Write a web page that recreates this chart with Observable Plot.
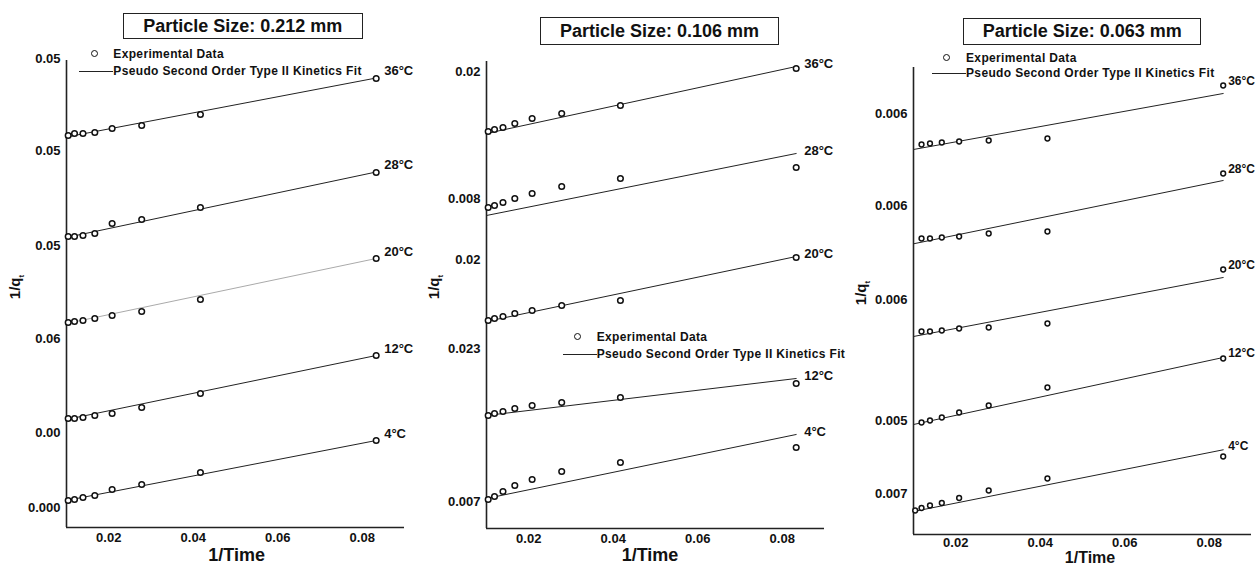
<!DOCTYPE html>
<html><head><meta charset="utf-8">
<script src="https://cdn.jsdelivr.net/npm/d3@7"></script>
<script src="https://cdn.jsdelivr.net/npm/@observablehq/plot@0.6"></script>
<style>
html,body{margin:0;padding:0;background:#fff;overflow:hidden}
#wrap{position:relative;width:1257px;height:566px;font-family:"Liberation Sans",Arial,sans-serif;font-weight:bold;color:#111;overflow:hidden}
.panel{position:absolute;top:0}
.title{position:absolute;border:1.5px solid #222;box-sizing:border-box;display:flex;align-items:center;justify-content:center;font-size:18px;background:#fff}
.legtxt{position:absolute;font-size:12px;letter-spacing:0.35px;white-space:nowrap;line-height:14px;height:14px}
.legdot{position:absolute;width:5px;height:5px;border:1.5px solid #111;border-radius:50%;background:#fff}
.legline{position:absolute;height:0;border-top:1.2px solid #222}
.xlab{position:absolute;width:200px;text-align:center;line-height:20px}
.ylab{position:absolute;font-size:15px;line-height:18px;white-space:nowrap;transform:translate(-50%,-50%) rotate(-90deg)}
.ylab sub{font-size:8px}
</style></head>
<body><div id="wrap"></div>
<script>
// ---- shared data ----
const invTime = [0.0104, 0.0119, 0.0139, 0.0167, 0.0208, 0.0278, 0.0417, 0.0833];
const temps = ["36°C", "28°C", "20°C", "12°C", "4°C"];
const xTicks = [0.02, 0.04, 0.06, 0.08];
const titles = ["Particle Size: 0.212 mm", "Particle Size: 0.106 mm", "Particle Size: 0.063 mm"];
const legendLabels = ["Experimental Data", "Pseudo Second Order Type II Kinetics Fit"];

// ---- particle size 0.212 mm ----
const q212_36 = [0.392, 0.394, 0.394, 0.395, 0.399, 0.402, 0.413, 0.449];
const q212_28 = [0.291, 0.291, 0.292, 0.294, 0.304, 0.308, 0.320, 0.355];
const q212_20 = [0.205, 0.206, 0.207, 0.209, 0.212, 0.216, 0.228, 0.269];
const q212_12 = [0.109, 0.109, 0.110, 0.112, 0.114, 0.120, 0.134, 0.172];
const q212_4  = [0.027, 0.028, 0.030, 0.032, 0.038, 0.043, 0.055, 0.087];
const fitStart212 = [0.3905, 0.290, 0.204, 0.108, 0.027];
const fitEnd212   = [0.4495, 0.3555, 0.269, 0.172, 0.087];
const yTicks212  = [0.469, 0.377, 0.282, 0.189, 0.095, 0.020];
const yLabels212 = ["0.05", "0.05", "0.05", "0.06", "0.00", "0.000"];

// ---- particle size 0.106 mm ----
const q106_36 = [0.397, 0.399, 0.401, 0.405, 0.410, 0.415, 0.423, 0.460];
const q106_28 = [0.321, 0.323, 0.326, 0.330, 0.335, 0.342, 0.350, 0.361];
const q106_20 = [0.208, 0.210, 0.212, 0.215, 0.218, 0.223, 0.228, 0.271];
const q106_12 = [0.113, 0.115, 0.117, 0.120, 0.123, 0.126, 0.131, 0.145];
const q106_4  = [0.029, 0.032, 0.037, 0.043, 0.049, 0.057, 0.066, 0.081];
const fitStart106 = [0.395, 0.313, 0.207, 0.113, 0.030];
const fitEnd106   = [0.462, 0.375, 0.272, 0.150, 0.094];
const yTicks106  = [0.457, 0.330, 0.269, 0.180, 0.027];
const yLabels106 = ["0.02", "0.008", "0.02", "0.023", "0.007"];

// ---- particle size 0.063 mm ----
const q063_36 = [null, 0.390, 0.391, 0.392, 0.393, 0.394, 0.396, 0.449];
const q063_28 = [null, 0.296, 0.296, 0.297, 0.298, 0.301, 0.303, 0.361];
const q063_20 = [null, 0.203, 0.203, 0.204, 0.206, 0.207, 0.211, 0.265];
const q063_12 = [null, 0.112, 0.114, 0.117, 0.122, 0.129, 0.147, 0.176];
const q063_4  = [0.024, 0.0265, 0.029, 0.0315, 0.0365, 0.044, 0.056, 0.078];
const fitStart063 = [0.385, 0.2907, 0.198, 0.110, 0.023];
const fitEnd063   = [0.441, 0.354, 0.257, 0.177, 0.0847];
const yTicks063  = [0.421, 0.329, 0.235, 0.114, 0.041];
const yLabels063 = ["0.006", "0.006", "0.006", "0.005", "0.007"];

const X0 = 0.01, X1 = 0.09, XFITEND = 0.0833;

const panels = [
  {series:[q212_36,q212_28,q212_20,q212_12,q212_4], fs:fitStart212, fe:fitEnd212, yt:yTicks212, yl:yLabels212,
   left:0, width:420, mr:16, mt:60, mb:39, labelDy:-7, labelDx:8, labelSize:13, r:2.8, light:"20°C", xpad:5,
   title:{x:122.7,y:13.3,w:240,h:26}, leg:{dotX:95,dotY:54.3,tx:113.3,lineX0:79,lineY:71},
   xlab:{x:236.7,y:555,size:18}, ylab:{x:18,y:287}},
  {series:[q106_36,q106_28,q106_20,q106_12,q106_4], fs:fitStart106, fe:fitEnd106, yt:yTicks106, yl:yLabels106,
   left:420, width:420, mr:16, mt:61, mb:38, labelDy:-3, labelDx:8, labelSize:13, r:2.8, light:null, xpad:5,
   title:{x:540,y:17.3,w:239,h:27.5}, leg:{dotX:578.3,dotY:336.7,tx:596.7,lineX0:563.3,lineY:354},
   xlab:{x:650,y:555,size:18}, ylab:{x:437,y:287}},
  {series:[q063_36,q063_28,q063_20,q063_12,q063_4], fs:fitStart063, fe:fitEnd063, yt:yTicks063, yl:yLabels063,
   left:847, width:410, mr:6, mt:67, mb:32, labelDy:-4, labelDx:5, labelSize:12, r:2.4, light:null, xpad:3,
   title:{x:963.3,y:18.3,w:238,h:27}, leg:{dotX:946.7,dotY:57.7,tx:966,lineX0:931.7,lineY:73.3},
   xlab:{x:1090,y:557.5,size:16}, ylab:{x:863.5,y:293}}
];

const wrap = document.getElementById("wrap");

panels.forEach((p, pi) => {
  const pts = [];
  p.series.forEach((arr, si) => arr.forEach((v, i) => {
    if (v != null) pts.push({t: temps[si], x: invTime[i], y: v});
  }));
  const fits = [];
  temps.forEach((t, si) => {
    fits.push({t, x: X0, y: p.fs[si]});
    fits.push({t, x: XFITEND, y: p.fe[si]});
  });
  const labs = temps.map((t, si) => ({t, x: XFITEND, y: Math.max(p.fe[si], p.series[si][7])}));
  const tickMap = new Map(p.yt.map((v, i) => [v, p.yl[i]]));

  const chart = Plot.plot({
    width: p.width, height: 566,
    marginLeft: 66, marginRight: p.mr, marginTop: p.mt, marginBottom: p.mb,
    style: {fontFamily: '"Liberation Sans", Arial, sans-serif', fontSize: "13px", fontWeight: "bold",
            background: "transparent", color: "#111", overflow: "visible"},
    x: {domain: [X0, X1], ticks: xTicks, tickSize: 0, tickPadding: p.xpad, tickFormat: d => d.toFixed(2), label: null},
    y: {domain: [0, 0.467], ticks: p.yt, tickSize: 0, tickPadding: 6, tickFormat: d => tickMap.get(d), label: null},
    marks: [
      Plot.ruleX([X0], {stroke: "#222", strokeWidth: 1.6}),
      Plot.ruleY([0], {stroke: "#222", strokeWidth: 1.6}),
      Plot.line(fits.filter(d => d.t !== p.light), {x: "x", y: "y", z: "t", stroke: "#222", strokeWidth: 1}),
      Plot.line(fits.filter(d => d.t === p.light), {x: "x", y: "y", z: "t", stroke: "#aaa", strokeWidth: 1}),
      Plot.dot(pts, {x: "x", y: "y", r: p.r, stroke: "#111", strokeWidth: 1.5, fill: "white"}),
      Plot.text(labs, {x: "x", y: "y", text: "t", dx: p.labelDx, dy: p.labelDy, textAnchor: "start", fontSize: p.labelSize, fontWeight: "bold", fill: "#111"})
    ]
  });
  chart.classList.add("panel");
  chart.style.left = p.left + "px";
  wrap.appendChild(chart);

  // title box
  const tb = document.createElement("div");
  tb.className = "title";
  Object.assign(tb.style, {left: p.title.x + "px", top: p.title.y + "px", width: p.title.w + "px", height: p.title.h + "px"});
  tb.textContent = titles[pi];
  wrap.appendChild(tb);

  // legend
  const dot = document.createElement("div");
  dot.className = "legdot";
  Object.assign(dot.style, {left: (p.leg.dotX - 4) + "px", top: (p.leg.dotY - 4) + "px"});
  wrap.appendChild(dot);
  const t1 = document.createElement("div");
  t1.className = "legtxt";
  Object.assign(t1.style, {left: p.leg.tx + "px", top: (p.leg.dotY - 7) + "px"});
  t1.textContent = legendLabels[0];
  wrap.appendChild(t1);
  const ln = document.createElement("div");
  ln.className = "legline";
  Object.assign(ln.style, {left: p.leg.lineX0 + "px", top: p.leg.lineY + "px", width: (p.leg.tx - p.leg.lineX0) + "px"});
  wrap.appendChild(ln);
  const t2 = document.createElement("div");
  t2.className = "legtxt";
  Object.assign(t2.style, {left: p.leg.tx + "px", top: (p.leg.lineY - 7) + "px"});
  t2.textContent = legendLabels[1];
  wrap.appendChild(t2);

  // axis titles
  const xl = document.createElement("div");
  xl.className = "xlab";
  Object.assign(xl.style, {left: (p.xlab.x - 100) + "px", top: (p.xlab.y - 10) + "px", fontSize: p.xlab.size + "px"});
  xl.textContent = "1/Time";
  wrap.appendChild(xl);
  const yl = document.createElement("div");
  yl.className = "ylab";
  Object.assign(yl.style, {left: p.ylab.x + "px", top: p.ylab.y + "px"});
  yl.innerHTML = "1/q<sub>t</sub>";
  wrap.appendChild(yl);
});
</script>
</body></html>
